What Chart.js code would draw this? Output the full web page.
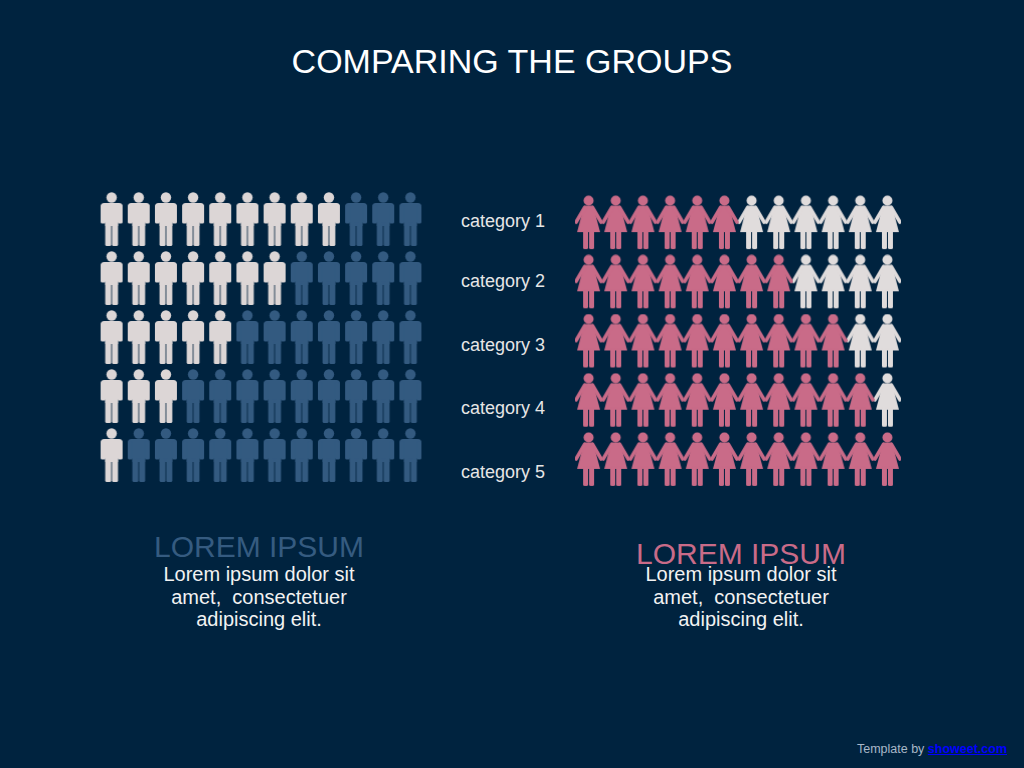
<!DOCTYPE html>
<html lang="en">
<head>
    <meta charset="UTF-8">
    <title>Comparing the groups</title>
    <script src="https://cdn.jsdelivr.net/npm/chart.js"></script>
    <style>
        html, body {
            margin: 0;
            width: 1024px;
            height: 768px;
            overflow: hidden;
            background-color: #00233f;
            font-family: "Liberation Sans", Arial, sans-serif;
        }

        div, a, canvas { position: absolute; }

        #title {
            left: 0; width: 1024px; top: 41px;
            text-align: center;
            font-size: 34px;
            line-height: 40px;
            color: #ffffff;
        }

        .category {
            left: 461px;
            font-size: 18px;
            line-height: 20px;
            color: #e6e6e6;
            white-space: nowrap;
        }

        .heading {
            width: 300px;
            text-align: center;
            font-size: 30px;
            line-height: 32px;
            white-space: nowrap;
        }

        .copy {
            width: 300px;
            top: 563px;
            text-align: center;
            font-size: 20px;
            line-height: 22.7px;
            color: #f2f2f2;
            white-space: pre;
        }

        #footer {
            right: 17px; top: 741px;
            font-size: 12.5px;
            line-height: 16px;
            color: #a9b8c8;
            white-space: nowrap;
        }

        #footer a { position: static; color: #0000ff; font-weight: bold; }
    </style>
</head>
<body>
    <div id="title">COMPARING THE GROUPS</div>

    <canvas id="menChart" width="326" height="295" style="left:98px;top:190px"></canvas>
    <canvas id="womenChart" width="326" height="296" style="left:575px;top:193px"></canvas>

    <div class="heading" style="left:109px;top:531px;color:#355b80">LOREM IPSUM</div>
    <div class="heading" style="left:591px;top:538px;color:#c96b88">LOREM IPSUM</div>
    <div class="copy" style="left:109px">Lorem ipsum dolor sit
amet,  consectetuer
adipiscing elit.</div>
    <div class="copy" style="left:591px">Lorem ipsum dolor sit
amet,  consectetuer
adipiscing elit.</div>

    <div id="footer">Template by <a href="#">showeet.com</a></div>

    <script>
        // Datos
        const categories = ["category 1", "category 2", "category 3", "category 4", "category 5"];
        const categoryTops = [211, 271, 335, 398, 462];
        const iconsPerRow = 12;
        const menHighlighted = [9, 7, 5, 3, 1];
        const womenHighlighted = [6, 8, 10, 11, 12];

        const colors = {
            menLight: "#dcd6d6",
            menDark: "#335a80",
            womenPink: "#c96b88",
            womenLight: "#e0dcdc"
        };

        categories.forEach((name, i) => {
            const label = document.createElement("div");
            label.className = "category";
            label.style.top = categoryTops[i] + "px";
            label.textContent = name;
            document.body.appendChild(label);
        });

        function roundBar(c, x, y, w, h) {
            c.beginPath();
            c.roundRect(x, y, w, h, 1.5);
            c.fill();
        }

        // Icono de hombre, 24x55
        function manIcon(color) {
            const canvas = document.createElement("canvas");
            canvas.width = 24;
            canvas.height = 55;
            const c = canvas.getContext("2d");
            c.fillStyle = color;
            c.beginPath();
            c.arc(12, 5.5, 5.2, 0, Math.PI * 2);
            c.fill();
            // hombros y brazos
            c.beginPath();
            c.roundRect(1, 11, 22, 9, [3.5, 3.5, 0, 0]);
            c.fill();
            roundBar(c, 1, 13, 5, 18.5);
            roundBar(c, 18, 13, 5, 18.5);
            // torso y piernas
            c.fillRect(5.6, 14, 12.8, 20);
            roundBar(c, 5.6, 30, 6, 24);
            roundBar(c, 12.4, 30, 6, 24);
            return canvas;
        }

        // Icono de mujer, 29x55
        function womanIcon(color) {
            const canvas = document.createElement("canvas");
            canvas.width = 29;
            canvas.height = 55;
            const c = canvas.getContext("2d");
            c.fillStyle = color;
            c.beginPath();
            c.arc(14.5, 5.5, 5, 0, Math.PI * 2);
            c.fill();
            // vestido
            c.beginPath();
            c.moveTo(10, 10.5);
            c.lineTo(19, 10.5);
            c.lineTo(26, 37);
            c.lineTo(3, 37);
            c.closePath();
            c.fill();
            // brazos
            c.strokeStyle = color;
            c.lineWidth = 3.6;
            c.lineCap = "round";
            c.beginPath();
            c.moveTo(10.5, 12.5);
            c.lineTo(2, 27);
            c.moveTo(18.5, 12.5);
            c.lineTo(27, 27);
            c.stroke();
            // piernas
            roundBar(c, 9, 35, 5, 19);
            roundBar(c, 15, 35, 5, 19);
            return canvas;
        }

        function rowPoints(counts, highlighted) {
            const points = [];
            counts.forEach((count, row) => {
                for (let col = 1; col <= iconsPerRow; col++) {
                    if ((col <= count) === highlighted) {
                        points.push({ x: col, y: row + 1 });
                    }
                }
            });
            return points;
        }

        function pictogram(id, counts, onIcon, offIcon) {
            return new Chart(document.getElementById(id), {
                type: "scatter",
                data: {
                    datasets: [
                        { data: rowPoints(counts, true), pointStyle: onIcon, clip: false },
                        { data: rowPoints(counts, false), pointStyle: offIcon, clip: false }
                    ]
                },
                options: {
                    responsive: false,
                    animation: false,
                    events: [],
                    layout: { autoPadding: false, padding: 0 },
                    plugins: { legend: { display: false }, tooltip: { enabled: false } },
                    scales: {
                        x: { display: false, min: 0.5, max: iconsPerRow + 0.5 },
                        y: { display: false, min: 0.5, max: categories.length + 0.5, reverse: true }
                    }
                }
            });
        }

        pictogram("menChart", menHighlighted, manIcon(colors.menLight), manIcon(colors.menDark));
        pictogram("womenChart", womenHighlighted, womanIcon(colors.womenPink), womanIcon(colors.womenLight));
    </script>
</body>
</html>
